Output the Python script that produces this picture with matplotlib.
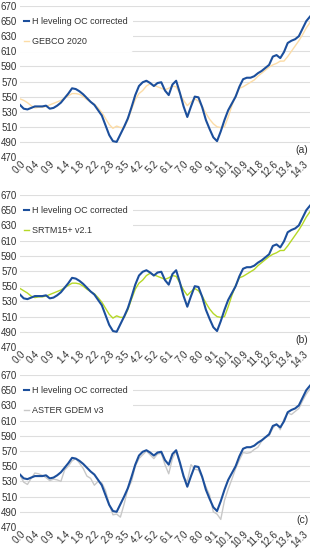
import matplotlib
matplotlib.use("Agg")
import matplotlib.pyplot as plt
import numpy as np

plt.rcParams['font.family'] = ['Liberation Sans', 'DejaVu Sans']

tick_labels = ["0.0", "0.4", "0.9", "1.4", "1.8", "2.2", "2.8", "3.5", "4.2", "5.2",
               "6.1", "7.0", "8.0", "9.1", "10.1", "10.9", "11.8", "12.6", "13.4", "14.3"]

h_leveling = [539, 534, 533, 535, 537, 537, 537, 538, 534, 535,
              538, 542, 548, 554, 561, 560, 557, 553, 548, 543,
              539, 532, 525, 512, 499, 491, 490, 500, 510, 521,
              536, 552, 564, 569, 571, 568, 564, 568, 569, 558,
              552, 566, 571, 555, 537, 523, 537, 550, 549, 536,
              519, 507, 496, 491, 504, 519, 532, 541, 550, 563,
              573, 575, 575, 577, 581, 584, 588, 592, 603, 605,
              601, 609, 621, 624, 626, 630, 640, 650, 656]

gebco = [547, 545, 542, 538, 535, 536, 536, 537, 539, 541,
         543, 545, 548, 551, 554, 554, 553, 550, 546, 543,
         540, 535, 529, 521, 513, 508, 511, 509, 509, 519,
         533, 546, 554, 558, 564, 567, 565, 563, 561, 559,
         561, 564, 563, 554, 545, 538, 543, 547, 544, 537,
         528, 520, 514, 510, 509, 510, 523, 538, 551, 561,
         563, 566, 569, 572, 577, 581, 585, 589, 592, 594,
         597, 597, 603, 610, 617, 624, 632, 641, 648]

srtm = [547, 544, 541, 537, 535, 536, 536, 537, 539, 541,
        543, 545, 548, 551, 554, 554, 553, 550, 546, 543,
        540, 535, 529, 521, 513, 508, 511, 509, 509, 519,
        533, 546, 554, 558, 564, 567, 565, 563, 561, 559,
        561, 564, 563, 554, 545, 538, 543, 547, 544, 537,
        528, 520, 514, 510, 509, 510, 523, 538, 551, 561,
        563, 566, 569, 572, 577, 581, 585, 589, 592, 594,
        597, 597, 603, 610, 617, 624, 632, 641, 648]

aster = [538, 529, 526, 534, 541, 540, 538, 535, 531, 533,
         532, 530, 545, 550, 557, 560, 554, 547, 537, 534,
         525, 530, 528, 518, 500, 486, 487, 483, 500, 520,
         530, 550, 560, 565, 570, 565, 560, 566, 567, 552,
         540, 560, 570, 553, 535, 530, 552, 546, 545, 535,
         523, 512, 490, 487, 480, 505, 520, 533, 547, 558,
         568, 567, 568, 572, 575, 583, 588, 590, 600, 606,
         598, 612, 620, 618, 622, 626, 636, 645, 652]

BLUE = "#1c4f9c"
panels = [
    ("GEBCO 2020", gebco, "#fcdca6", "(a)"),
    ("SRTM15+ v2.1", srtm, "#b5d827", "(b)"),
    ("ASTER GDEM v3", aster, "#c8c8c8", "(c)"),
]

W, H = 312, 550
fig = plt.figure(figsize=(W / 100, H / 100), dpi=100)

# (top px, bottom px) of each plot area
boxes = [(6, 157), (195, 347), (375, 527)]
left_px, right_px = 20, 310

x = np.arange(len(h_leveling))
tick_pos = np.arange(0, 4 * len(tick_labels), 4)

for (name, series, col, tag), (t, b) in zip(panels, boxes):
    ax = fig.add_axes([left_px / W, 1 - b / H, (right_px - left_px) / W, (b - t) / H])
    ax.plot(x, series, color=col, lw=1.0, label=name, zorder=2)
    ax.plot(x, h_leveling, color=BLUE, lw=1.5, label="H leveling OC corrected", zorder=3)
    ax.set_xlim(0, len(h_leveling) - 1)
    ax.set_ylim(470, 670)
    ax.set_yticks(np.arange(470, 671, 20))
    ax.set_xticks(tick_pos)
    ax.set_xticklabels(tick_labels, rotation=45, ha='right', rotation_mode='anchor')
    ax.tick_params(axis='both', length=0, labelsize=7, colors="#333333", pad=2)
    ax.tick_params(axis='x', pad=1.5)
    ax.grid(axis='y', color="#dedede", lw=0.8)
    ax.set_axisbelow(True)
    for s in ax.spines.values():
        s.set_visible(False)
    handles, labels = ax.get_legend_handles_labels()
    leg = ax.legend(handles[::-1], labels[::-1], loc='upper left',
                    bbox_to_anchor=(-0.005, 0.96), frameon=True,
                    fontsize=6.5, handlelength=0.6, handletextpad=0.3,
                    labelspacing=1.2, borderaxespad=0.0, borderpad=0.6)
    leg.get_frame().set_facecolor('white')
    leg.get_frame().set_edgecolor('none')
    leg.get_frame().set_alpha(1.0)
    for txt in leg.get_texts():
        txt.set_color("#333333")
    ax.text(0.995, 0.015, tag, transform=ax.transAxes, ha='right', va='bottom',
            fontsize=7.5, color="#333333")

fig.savefig("out.png", dpi=100)
